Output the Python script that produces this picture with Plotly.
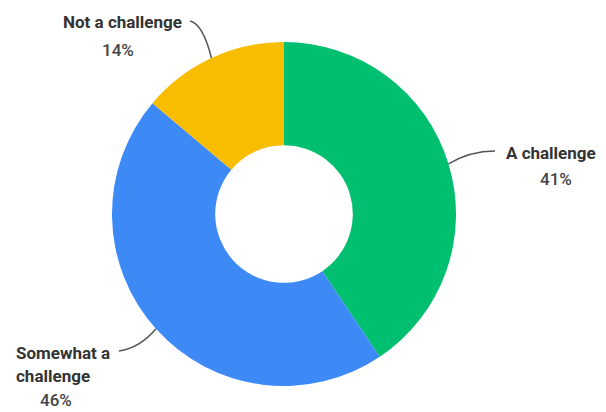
import math
import plotly.graph_objects as go

# ---- data ----
categories = ["A challenge", "Somewhat a challenge", "Not a challenge"]
values = [41, 46, 14]
colors = ["#00BF6F", "#3D8AF7", "#F9BD00"]

W, H = 606, 412
CX, CY, R = 284, 214, 172  # pie centre / radius in px
HOLE = 0.40

def px(x):
    return x / W

def py(y):
    return 1 - y / H

fig = go.Figure(go.Pie(
    labels=categories,
    values=values,
    marker=dict(colors=colors, line=dict(width=0)),
    hole=HOLE,
    sort=False,
    direction="clockwise",
    rotation=0,
    textinfo="none",
    hoverinfo="label+percent",
    showlegend=False,
    domain=dict(x=[px(CX - R), px(CX + R)], y=[py(CY + R), py(CY - R)]),
))

# slice mid-points on the outer edge (from data)
total = sum(values)
cum = 0
edge = {}
for c, v in zip(categories, values):
    mid = (cum + v / 2) / total * 2 * math.pi
    cum += v
    edge[c] = (CX + R * math.sin(mid), CY - R * math.cos(mid))

# label layout: (lines, leader start, control point)
label_layout = {
    "Not a challenge": dict(
        lines=[("Not a challenge", 122, 22, "center", True), ("14%", 118, 50, "center", False)],
        start=(190, 21), ctrl=(203, 24)),
    "A challenge": dict(
        lines=[("A challenge", 551, 153, "center", True), ("41%", 556, 179, "center", False)],
        start=(495, 151), ctrl=(470, 151)),
    "Somewhat a challenge": dict(
        lines=[("Somewhat a", 14, 353, "left", True), ("challenge", 14, 376, "left", True),
               ("46%", 56, 400, "center", False)],
        start=(119, 351), ctrl=(140, 348)),
}

annotations = []
shapes = []
for c in categories:
    lay = label_layout[c]
    for txt, x, y, anchor, bold in lay["lines"]:
        annotations.append(dict(
            x=px(x), y=py(y), xref="paper", yref="paper", text=txt,
            showarrow=False, xanchor=anchor, yanchor="middle",
            font=dict(family="Roboto, Arial, sans-serif", size=17,
                      weight=700 if bold else 500,
                      color="#333333" if bold else "#444444"),
        ))
    sx, sy = lay["start"]
    qx, qy = lay["ctrl"]
    ex, ey = edge[c]
    shapes.append(dict(
        type="path", xref="paper", yref="paper",
        path=f"M {px(sx)},{py(sy)} Q {px(qx)},{py(qy)} {px(ex)},{py(ey)}",
        line=dict(color="#555555", width=1.5),
    ))

fig.update_layout(
    width=W, height=H,
    margin=dict(l=0, r=0, t=0, b=0),
    paper_bgcolor="white",
    plot_bgcolor="white",
    annotations=annotations,
    shapes=shapes,
)

fig.write_html("out.html", config={"displayModeBar": False},
               post_script="document.body.style.margin='0';")
